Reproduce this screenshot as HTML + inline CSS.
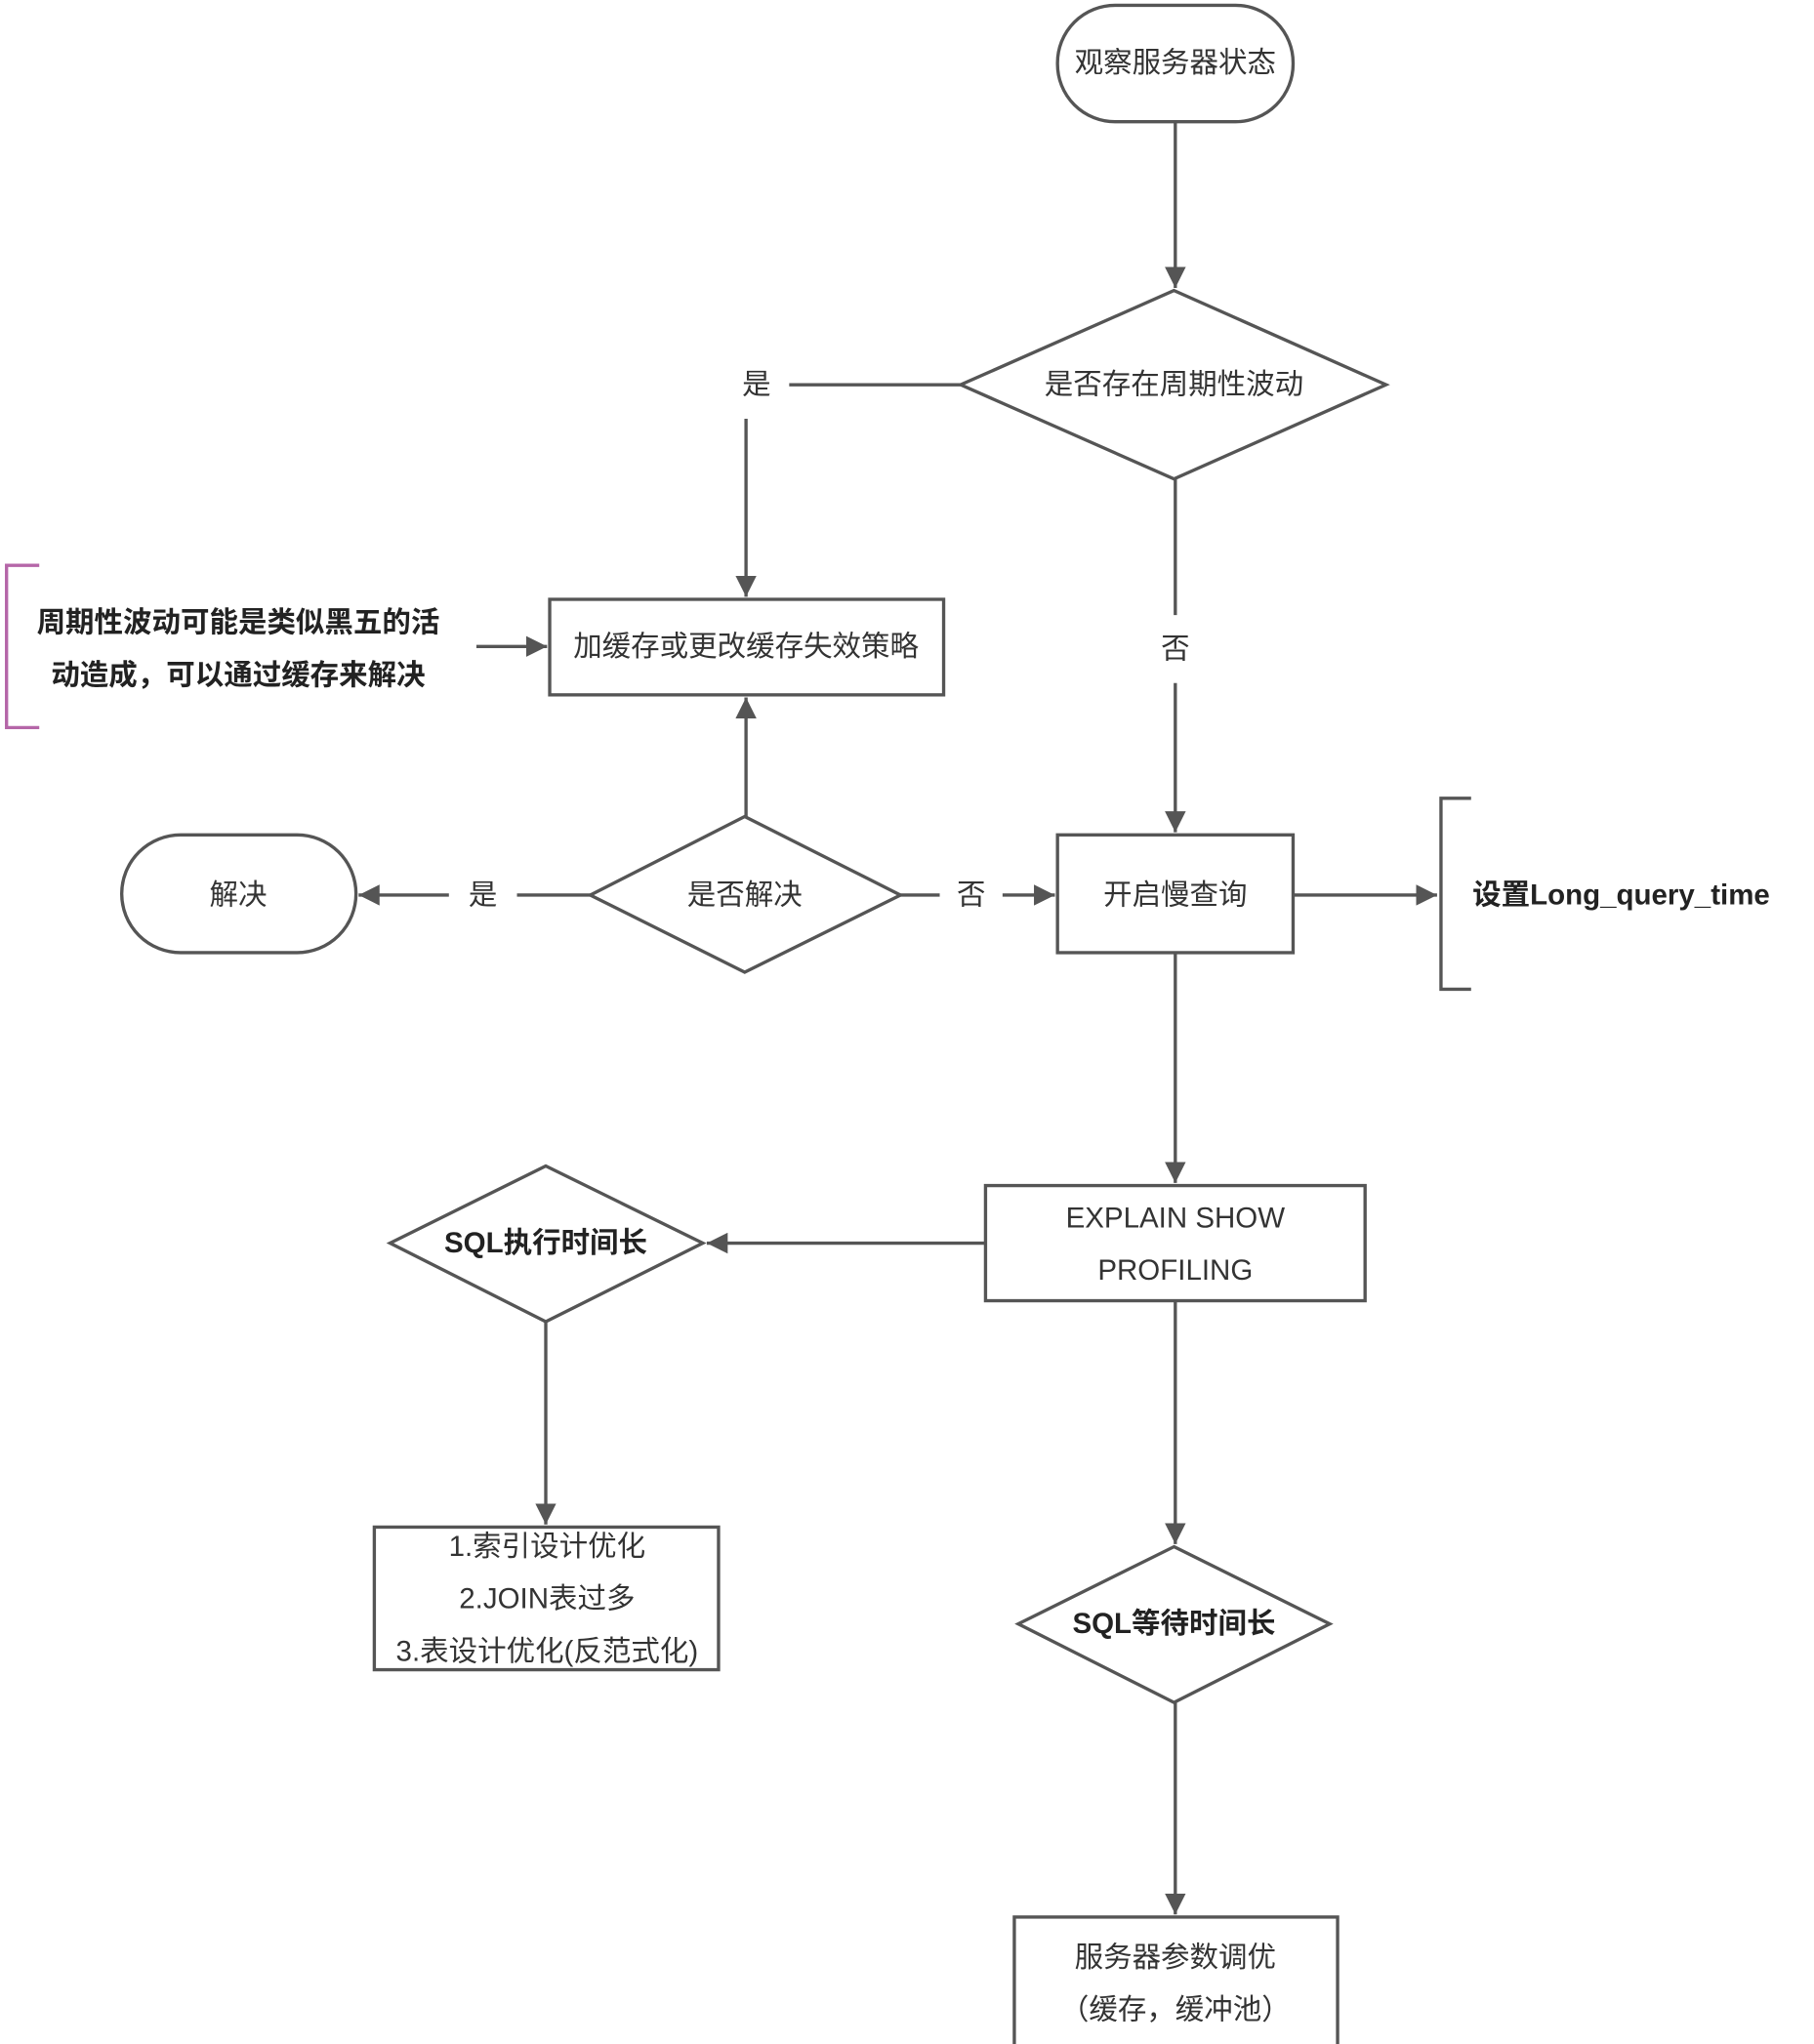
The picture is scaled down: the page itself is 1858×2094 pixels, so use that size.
<!DOCTYPE html>
<html><head><meta charset="utf-8"><style>
html,body{margin:0;padding:0;background:#fff;}
svg{display:block;}
text{font-family:"Liberation Sans","Noto Sans CJK SC",sans-serif;fill:#333;font-size:22px;}
.b{font-weight:bold;fill:#222;}
</style></head><body>
<svg width="1858" height="2094" viewBox="0 0 1386 1562" xmlns="http://www.w3.org/2000/svg">
<defs><marker id="a" viewBox="0 0 10 10" refX="9" refY="5" markerWidth="6" markerHeight="6" markerUnits="userSpaceOnUse" orient="auto"><path d="M0,0 L10,5 L0,10 z" fill="#555"/></marker>
<marker id="m" viewBox="0 0 10 10" refX="10" refY="5" markerWidth="16" markerHeight="16" markerUnits="userSpaceOnUse" orient="auto"><path d="M0,0 L10,5 L0,10 z" fill="#555"/></marker></defs>
<g fill="none" stroke="#555" stroke-width="2.5">
<rect x="808" y="4" width="180" height="89" rx="44"/>
<polygon points="897,222 1059,294 897,366 734,294"/>
<rect x="420" y="458" width="301" height="73"/>
<rect x="808" y="638" width="180" height="90"/>
<polygon points="569,624 688,684 569,743 451,684"/>
<rect x="93" y="638" width="179" height="90" rx="45"/>
<rect x="753" y="906" width="290" height="88"/>
<polygon points="417,891 537,950 417,1010 298,950"/>
<rect x="286" y="1167" width="263" height="109"/>
<polygon points="897,1182 1016,1241 897,1301 778,1241"/>
<rect x="775" y="1465" width="247" height="99"/>
<path d="M898,93 V220" marker-end="url(#m)"/>
<path d="M734,294 H603"/>
<path d="M570,320 V456" marker-end="url(#m)"/>
<path d="M898,366 V470"/>
<path d="M898,522 V636" marker-end="url(#m)"/>
<path d="M364,494 H418" marker-end="url(#m)"/>
<path d="M570,624 V533" marker-end="url(#m)"/>
<path d="M451,684 H395"/>
<path d="M343,684 H274" marker-end="url(#m)"/>
<path d="M688,684 H718"/>
<path d="M766,684 H806" marker-end="url(#m)"/>
<path d="M988,684 H1098" marker-end="url(#m)"/>
<path d="M1124,610 H1101 V756 H1124"/>
<path d="M898,728 V904" marker-end="url(#m)"/>
<path d="M753,950 H540" marker-end="url(#m)"/>
<path d="M417,1010 V1165" marker-end="url(#m)"/>
<path d="M898,994 V1180" marker-end="url(#m)"/>
<path d="M898,1301 V1463" marker-end="url(#m)"/>
</g>
<path d="M30,432 H5 V556 H30" fill="none" stroke="#b566a8" stroke-width="2.5"/>
<g text-anchor="middle" dominant-baseline="central">
<text x="898" y="48">观察服务器状态</text>
<text x="897" y="294">是否存在周期性波动</text>
<text x="578" y="294">是</text>
<text x="898" y="496">否</text>
<text x="570" y="494">加缓存或更改缓存失效策略</text>
<text class="b" x="182" y="476">周期性波动可能是类似黑五的活</text>
<text class="b" x="182" y="516">动造成，可以通过缓存来解决</text>
<text x="569" y="684">是否解决</text>
<text x="182" y="684">解决</text>
<text x="369" y="684">是</text>
<text x="742" y="684">否</text>
<text x="898" y="684">开启慢查询</text>
<text x="898" y="931">EXPLAIN SHOW</text>
<text x="898" y="971">PROFILING</text>
<text class="b" x="417" y="950">SQL执行时间长</text>
<text x="418" y="1182">1.索引设计优化</text>
<text x="418" y="1222">2.JOIN表过多</text>
<text x="418" y="1262">3.表设计优化(反范式化)</text>
<text class="b" x="897" y="1241">SQL等待时间长</text>
<text x="898" y="1496">服务器参数调优</text>
<text x="898" y="1536">（缓存，缓冲池）</text>
</g>
<text class="b" x="1125" y="684" dominant-baseline="central">设置Long_query_time</text>
</svg>
</body></html>
